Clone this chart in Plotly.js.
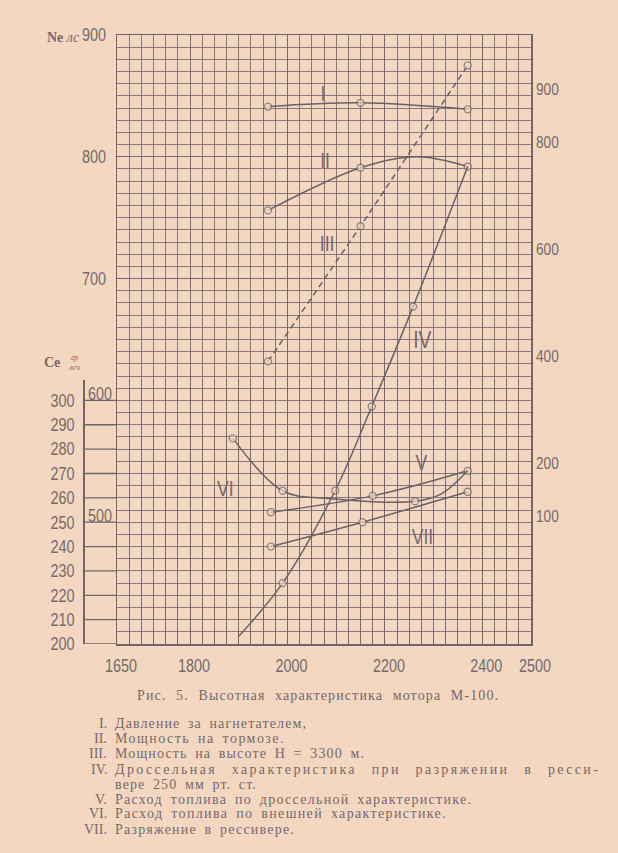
<!DOCTYPE html>
<html><head><meta charset="utf-8">
<script src="https://cdn.plot.ly/plotly-3.0.1.min.js"></script>
<style>html,body{margin:0;padding:0;background:#f4d7c0;} #chart{width:618px;height:853px;}</style>
</head><body><div id="chart"></div>
<script>
// ---------- data ----------
const xTickVals = [1650, 1800, 2000, 2200, 2400, 2500];
const neTickVals = [700, 800, 900];
const neInnerLabels = [600, 500];
const ceTickVals = [200, 210, 220, 230, 240, 250, 260, 270, 280, 290, 300];
const rightTickVals = [100, 200, 400, 600, 800, 900];

// I  – pressure after supercharger (right scale)
const rpmI = [1960, 2150, 2370];
const valI = [867, 874, 862];
const markI = [1, 1, 1];
// II – brake power (Ne, hp)
const rpmII = [1960, 2150, 2265, 2370];
const neII = [756, 791, 800, 792];
const markII = [1, 1, 0, 1];
// III – power at altitude H = 3300 m (Ne, hp)
const rpmIII = [1960, 2150, 2370];
const neIII = [632, 743, 875];
const markIII = [1, 1, 1];
// IV – throttle characteristic (Ne, hp)
const rpmIV = [1899, 1990, 2098, 2173, 2258, 2370];
const neIV = [406, 450, 526, 595, 677, 792];
const markIV = [0, 1, 1, 1, 1, 0];
// V – fuel consumption, throttle characteristic (Ce)
const rpmV = [1966, 2175, 2370];
const ceV = [254.1, 260.8, 271.1];
const markV = [1, 1, 1];
// VI – fuel consumption, external characteristic (Ce)
const rpmVI = [1888, 1990, 2080, 2262, 2315, 2370];
const ceVI = [284.4, 262.9, 259.8, 258.6, 261.5, 271.1];
const markVI = [1, 1, 0, 1, 0, 0];
// VII – vacuum in receiver (Ce scale)
const rpmVII = [1966, 2154, 2370];
const ceVII = [240, 250, 262.5];
const markVII = [1, 1, 1];

const romanLabels = ['I', 'II', 'III', 'IV', 'V', 'VI', 'VII'];
const romanRpm = [2073, 2077, 2081, 2278, 2276, 1872, 2278];
const romanNe = [852, 797, 729, 650, 549, 528, 488];

const captionText = 'Рис. 5. Высотная характеристика мотора М-100.';
const legendNums = ['I.', 'II.', 'III.', 'IV.', '', 'V.', 'VI.', 'VII.'];
const legendTexts = [
  'Давление за нагнетателем,',
  'Мощность на тормозе.',
  'Мощность на высоте Н = 3300 м.',
  'Дроссельная характеристика при разряжении в ресси-',
  'вере 250 мм рт. ст.',
  'Расход топлива по дроссельной характеристике.',
  'Расход топлива по внешней характеристике.',
  'Разряжение в рессивере.'
];

// ---------- styling ----------
const BG = '#f4d7c0';
const GRID = 'rgba(118,102,108,0.85)';
const AXIS = '#6f6569';
const INK = '#6a6266';
const TXT = '#75696c';
const NUM = '"Liberation Sans", Arial, sans-serif';
const SERIF = '"Liberation Serif", "DejaVu Serif", serif';

// pixel helpers for text placed outside the plot
const PL = 20, PW = 511, PB = 644, PH = 609;
const px = X => (X - PL) / PW;
const py = Y => (PB - Y) / PH;

function curve(xs, ys, marks, yaxis, dash) {
  return {
    x: xs, y: ys, yaxis: yaxis, type: 'scatter', mode: 'lines+markers',
    line: {shape: dash ? 'linear' : 'spline', smoothing: 1, color: INK, width: 1.5, dash: dash || 'solid'},
    marker: {size: marks.map(m => m ? 7 : 0), color: BG, line: {color: INK, width: 1.3}},
    hoverinfo: 'skip', cliponaxis: false
  };
}

const traces = [
  curve(rpmI, valI, markI, 'y3'),
  curve(rpmII, neII, markII, 'y'),
  curve(rpmIII, neIII, markIII, 'y', '6px,4px'),
  curve(rpmIV, neIV, markIV, 'y'),
  curve(rpmV, ceV, markV, 'y2'),
  curve(rpmVI, ceVI, markVI, 'y2'),
  curve(rpmVII, ceVII, markVII, 'y2')
];

const annotations = [];
romanLabels.forEach((t, i) => annotations.push({
  x: romanRpm[i], y: romanNe[i], xref: 'x', yref: 'y', text: t, showarrow: false,
  font: {family: NUM, size: t === 'IV' ? 24 : 22, color: TXT}, name: 'num'
}));
neInnerLabels.forEach(v => annotations.push({
  x: px(117), y: v, xref: 'paper', yref: 'y', xanchor: 'right', yanchor: 'middle', yshift: 6,
  text: String(v), showarrow: false, font: {family: NUM, size: 18, color: TXT}, name: 'num'
}));
annotations.push({x: px(45), y: py(37), xref: 'paper', yref: 'paper', xanchor: 'left', yanchor: 'middle',
  text: '<b>Ne</b> <i>лс</i>', showarrow: false, font: {family: SERIF, size: 14, color: TXT}});
annotations.push({x: px(42), y: py(362), xref: 'paper', yref: 'paper', xanchor: 'left', yanchor: 'middle',
  text: '<b>Ce</b>', showarrow: false, font: {family: SERIF, size: 14, color: TXT}});
annotations.push({x: px(74), y: py(357), xref: 'paper', yref: 'paper', xanchor: 'center', yanchor: 'middle',
  text: '<i>гр</i>', showarrow: false, font: {family: SERIF, size: 8, color: TXT}});
annotations.push({x: px(74), y: py(367), xref: 'paper', yref: 'paper', xanchor: 'center', yanchor: 'middle',
  text: '<i>лсч</i>', showarrow: false, font: {family: SERIF, size: 8, color: TXT}});
annotations.push({x: px(135), y: py(695), xref: 'paper', yref: 'paper', xanchor: 'left', align: 'left', yanchor: 'middle',
  text: captionText, showarrow: false, font: {family: SERIF, size: 14, color: TXT}, name: 'cap:497:5'});
const legendY = [723, 738, 753, 769, 784, 799, 814, 829];
const legendEnd = [305, 283, 363, 598, 255, 470, 445, 293];
const legendWordGap = [3, 3, 3, 9, 3, 3, 3, 3];
legendTexts.forEach((t, i) => {
  if (legendNums[i]) annotations.push({x: px(109), y: py(legendY[i]), xref: 'paper', yref: 'paper',
    xanchor: 'right', yanchor: 'middle', text: legendNums[i], showarrow: false,
    font: {family: SERIF, size: 14, color: TXT}});
  annotations.push({x: px(113), y: py(legendY[i]), xref: 'paper', yref: 'paper', xanchor: 'left', align: 'left',
    yanchor: 'middle', text: t, showarrow: false, font: {family: SERIF, size: 14, color: TXT},
    name: 'cap:' + legendEnd[i] + ':' + legendWordGap[i]});
});

// short Ce ticks between the Ce axis and the plot frame
const shapes = ceTickVals.map(v => ({
  type: 'line', xref: 'paper', yref: 'y2', x0: px(83), x1: px(117), y0: v, y1: v,
  line: {color: AXIS, width: 1.3}
}));

const layout = {
  width: 618, height: 853,
  margin: {l: PL, r: 618 - PL - PW, t: 35, b: 853 - PB},
  paper_bgcolor: BG, plot_bgcolor: 'rgba(0,0,0,0)',
  showlegend: false,
  font: {family: NUM, color: TXT, size: 18},
  xaxis: {
    domain: [px(117), 1], range: [1650, 2500], anchor: 'y',
    tickmode: 'array', tickvals: xTickVals, ticks: '', ticklabelshift: 4, ticklabelstandoff: 5,
    showline: true, mirror: true, linecolor: AXIS, linewidth: 1.5,
    showgrid: true, gridcolor: GRID, gridwidth: 1, zeroline: false,
    minor: {tickmode: 'linear', tick0: 1650, dtick: 25, showgrid: true, gridcolor: GRID, gridwidth: 1, ticks: ''},
    tickfont: {family: NUM, size: 18, color: TXT}
  },
  yaxis: {
    range: [400, 900], anchor: 'x',
    tickmode: 'array', tickvals: neTickVals, ticks: '', ticklabelstandoff: 6,
    showline: true, mirror: true, linecolor: AXIS, linewidth: 1.5,
    showgrid: true, gridcolor: GRID, gridwidth: 1, zeroline: false,
    minor: {tickmode: 'linear', tick0: 400, dtick: 10, showgrid: true, gridcolor: GRID, gridwidth: 1, ticks: ''},
    tickfont: {family: NUM, size: 18, color: TXT}
  },
  yaxis2: {
    domain: [0, py(380)], range: [200, 200 + (PB - 380) / 2.436], anchor: 'free', position: px(83),
    tickmode: 'array', tickvals: ceTickVals, ticks: '',
    showline: true, linecolor: AXIS, linewidth: 1.5, showgrid: false, zeroline: false, ticklabelstandoff: 5,
    tickfont: {family: NUM, size: 18, color: TXT}
  },
  yaxis3: {
    overlaying: 'y', side: 'right', anchor: 'x', range: [-138.5, 1001],
    tickmode: 'array', tickvals: rightTickVals, ticks: '', showline: false, showgrid: false, zeroline: false,
    ticklabelstandoff: 4, tickfont: {family: NUM, size: 17, color: TXT}
  },
  shapes: shapes,
  annotations: annotations
};

function narrow(t, f) {
  const w = t.getComputedTextLength();
  if (w > 0) { t.setAttribute('textLength', (w * f).toFixed(1)); t.setAttribute('lengthAdjust', 'spacingAndGlyphs'); }
}

Plotly.newPlot('chart', traces, layout, {staticPlot: true, displayModeBar: false}).then(() => {
  // condensed grotesque digits of the original
  document.querySelectorAll('.xtick text, .ytick text, .y2tick text, .y3tick text').forEach(t => narrow(t, 0.8));
  document.querySelectorAll('g.annotation').forEach(g => {
    const idx = +g.getAttribute('data-index');
    const a = annotations[idx];
    const t = g.querySelector('text.annotation-text');
    if (!a || !t) return;
    if (a.name === 'num') narrow(t, 0.8);
    if (a.name && a.name.startsWith('cap:')) {
      // letter-spaced old print: fit each line to its measured end
      const parts = a.name.split(':');
      const target = +parts[1] - (a.x * PW + PL);
      const ws = +parts[2];
      t.style.letterSpacing = '0px'; t.style.wordSpacing = '0px';
      const w0 = t.getComputedTextLength();
      const gaps = (a.text.match(/ /g) || []).length;
      const ls = Math.max(0, Math.min(4, (target - w0 - gaps * ws) / a.text.length));
      t.style.letterSpacing = ls.toFixed(2) + 'px';
      t.style.wordSpacing = ws + 'px';
    }
  });
});
</script>
</body></html>
